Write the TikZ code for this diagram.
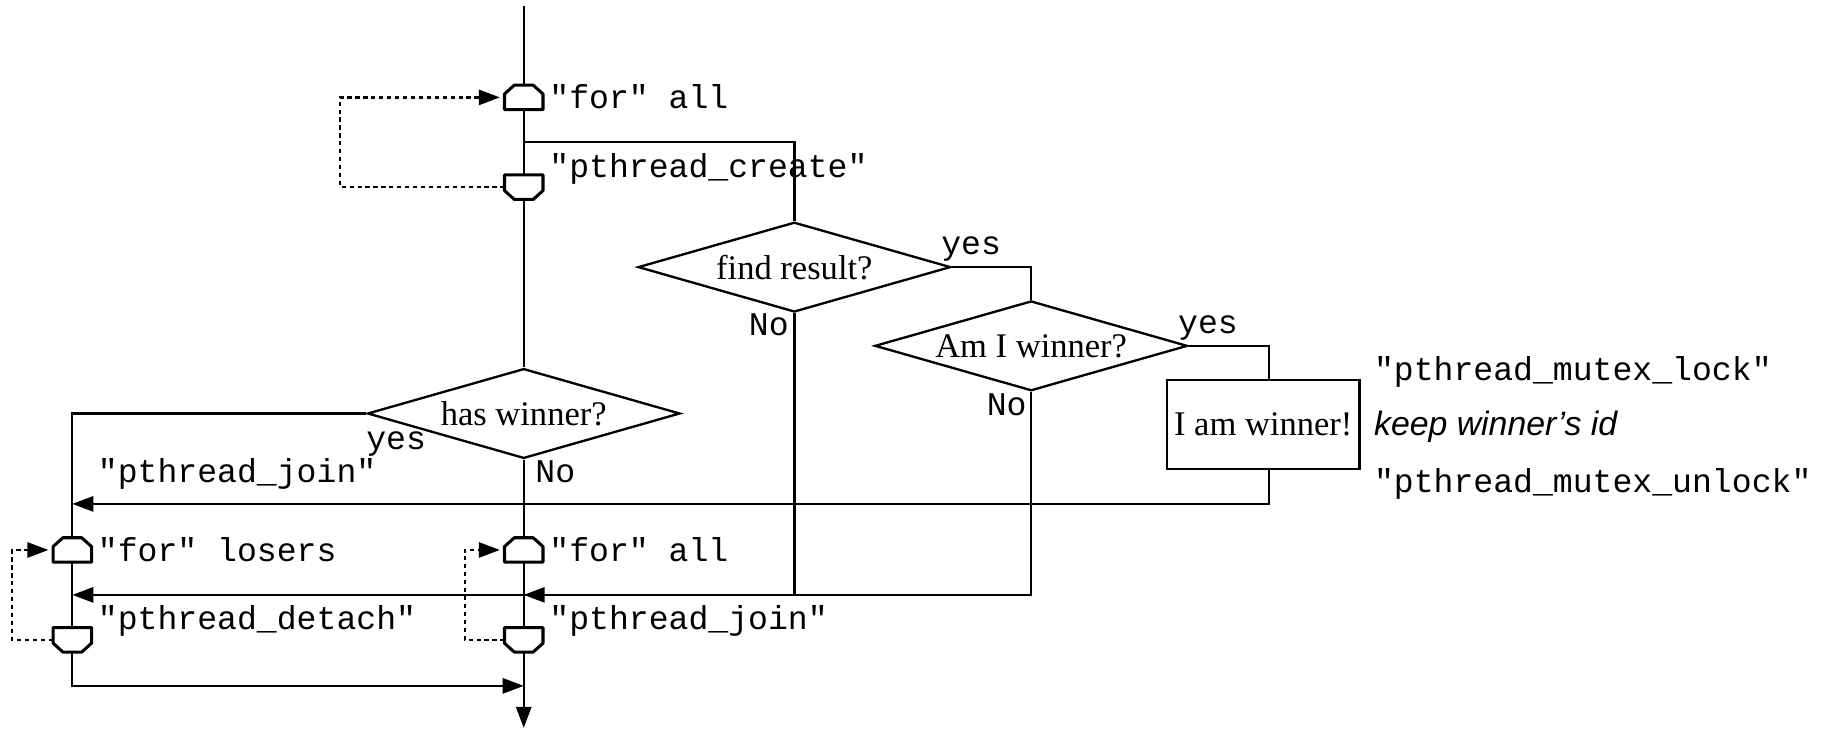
\documentclass[tikz,border=0pt]{standalone}
\usepackage{fontspec}
\setmainfont{Liberation Serif}
\setsansfont{Liberation Sans}
\setmonofont{Liberation Mono}
\usetikzlibrary{arrows.meta,shapes.geometric}

\tikzset{
    code/.style={font=\ttfamily\fontsize{14.2}{17}\selectfont, anchor=base west},
    decision/.style={diamond, draw, aspect=3.5, minimum width=134pt, minimum height=38.5pt,
                     font=\fontsize{14.8}{17}\selectfont},
    action/.style={rectangle, draw, minimum width=82.5pt, minimum height=38pt,
                   font=\fontsize{14.8}{17}\selectfont},
    loopmark/.style={rectangle, minimum width=15.5pt, minimum height=9.5pt},
    loopline/.style={line width=1.3pt, line join=round},
    arr/.style={-{Triangle[length=9pt,width=6.5pt]}},
    loopback/.style={arr, dash pattern=on 1.8pt off 1.6pt, shorten >=2pt}
}

\begin{document}
\begin{tikzpicture}[x=0.5pt, y=-0.5pt, line width=1pt, every node/.style={inner sep=0pt}]
    \useasboundingbox (0,0) rectangle (1568,625);

    % loops on the main line
    \coordinate (top) at (449,5);
    \coordinate (fork) at (449,122);
    \node[loopmark] (forall)    at (449,83.5) {};
    \node[loopmark] (createend) at (449,160.5) {};
    \node[loopmark] (losers)    at (62,471.5) {};
    \node[loopmark] (detach)    at (62,548.5) {};
    \node[loopmark] (allstart)  at (449,471.5) {};
    \node[loopmark] (joinend)   at (449,548.5) {};
    \coordinate (bottom) at (449,624);

    % loop start / loop end symbols
    \foreach \n in {forall,losers,allstart}
        \draw[loopline] (\n.south west) -- ([yshift=-3.8pt]\n.north west) -- ([xshift=4.2pt]\n.north west)
            -- ([xshift=-4.2pt]\n.north east) -- ([yshift=-3.8pt]\n.north east) -- (\n.south east) -- cycle;
    \foreach \n in {createend,detach,joinend}
        \draw[loopline] (\n.north west) -- ([yshift=3.8pt]\n.south west) -- ([xshift=4.2pt]\n.south west)
            -- ([xshift=-4.2pt]\n.south east) -- ([yshift=3.8pt]\n.south east) -- (\n.north east) -- cycle;

    % decisions
    \node[decision] (find)    at (681,229)   {find result?};
    \node[decision] (amwin)   at (884,296.5) {Am I winner?};
    \node[decision] (haswin)  at (449,354.5) {has winner?};
    \node[action]   (iwin)    at (1083,364)  {I am winner!};

    % join points
    \coordinate (joinleft) at (62,432);
    \coordinate (detachin) at (62,510);
    \coordinate (joinin)   at (449,510);
    \coordinate (merge)    at (449,588);

    % texts
    \node[code] (tforall)  at (470,93)   {"for" all};
    \node[code] (tcreate)  at (470,152)  {"pthread\_create"};
    \node[code] (tjoinl)   at (83,414)   {"pthread\_join"};
    \node[code] (tlosers)  at (83,481)   {"for" losers};
    \node[code] (tdetach)  at (83,540)   {"pthread\_detach"};
    \node[code] (tall)     at (470,481)  {"for" all};
    \node[code] (tjoin)    at (470,540)  {"pthread\_join"};
    \node[code] (tlock)    at (1177,326) {"pthread\_mutex\_lock"};
    \node[anchor=base west, font=\sffamily\itshape\fontsize{14.5}{17}\selectfont] (tkeep) at (1177,373) {keep winner’s id};
    \node[code] (tunlock)  at (1177,422) {"pthread\_mutex\_unlock"};

    \node[code] (findyes)  at (806,218) {yes};
    \node[code] (findno)   at (641,288) {No};
    \node[code] (amyes)    at (1009,286) {yes};
    \node[code] (amno)     at (845,356) {No};
    \node[code] (hasyes)   at (313,385) {yes};
    \node[code] (hasno)    at (458,414) {No};

    % main line
    \draw (top) -- (forall);
    \draw (forall) -- (createend);
    \draw (createend) -- (haswin);
    \draw (haswin) -- (allstart);
    \draw (allstart) -- (joinend);
    \draw[arr] (joinend) -- (bottom);

    % threads
    \draw (fork) -| (find.north);
    \draw (find.east) -| (amwin.north);
    \draw (amwin.east) -| ([xshift=2.5pt]iwin.north);
    \draw[arr] ([xshift=2.5pt]iwin.south) |- (joinleft);
    \draw[arr] (find.south) |- (detachin);
    \draw[arr] (amwin.south) |- (joinin);

    % losers
    \draw (haswin.west) -| (losers);
    \draw (losers) -- (detach);
    \draw[arr] (detach.south) |- (merge);

    % loop backs
    \draw[loopback] (createend.west) -- ++(-141,0) |- (forall.west);
    \draw[loopback] (detach.west) -- ++(-35,0) |- (losers.west);
    \draw[loopback] (joinend.west) -- ++(-34,0) |- (allstart.west);
\end{tikzpicture}
\end{document}
